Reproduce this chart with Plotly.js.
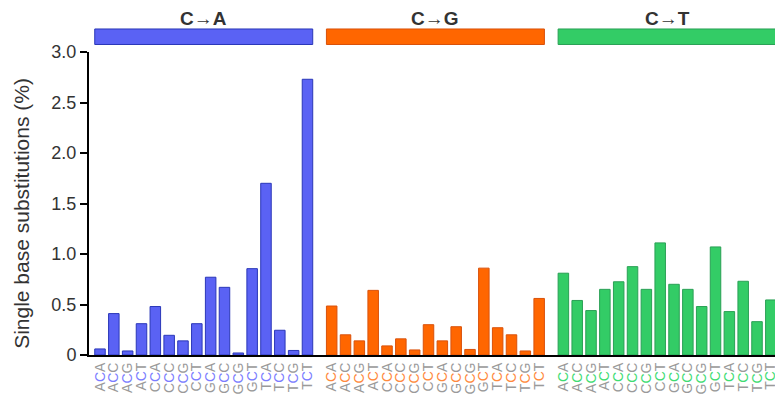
<!DOCTYPE html>
<html>
<head>
<meta charset="utf-8">
<script src="https://cdn.plot.ly/plotly-3.0.1.min.js"></script>
<style>html,body{margin:0;padding:0;background:#fff;}#chart{width:775px;height:401px;}</style>
</head>
<body>
<div id="chart"></div>
<script>
// Data
const contexts = ["ACA","ACC","ACG","ACT","CCA","CCC","CCG","CCT","GCA","GCC","GCG","GCT","TCA","TCC","TCG","TCT"];
const groupNames = ["C→A","C→G","C→T"];
const valuesCA = [0.06,0.41,0.04,0.31,0.48,0.195,0.14,0.31,0.77,0.67,0.02,0.855,1.70,0.245,0.045,2.73];
const valuesCG = [0.485,0.20,0.14,0.64,0.09,0.16,0.05,0.30,0.14,0.28,0.055,0.86,0.27,0.20,0.04,0.56];
const valuesCT = [0.81,0.54,0.44,0.65,0.725,0.875,0.65,1.11,0.70,0.65,0.48,1.07,0.43,0.73,0.33,0.545];
const yTickVals = [0,0.5,1.0,1.5,2.0,2.5,3.0];
const yTickText = ["0","0.5","1.0","1.5","2.0","2.5","3.0"];
const yTitle = 'Single base substitutions (%)';

// Styles
const fillColors = ["#5a62f4","#ff6600","#33cc66"];
const lineColors = ["#2a37b8","#d9510a","#2aa055"];
const labelColors = ["#7b7dff","#ff8a3d","#3fdc72"];
const groupStride = 16.75;
const barWidth = 0.76;

const allValues = [valuesCA, valuesCG, valuesCT];
const traces = [];
const tickvals = [];
const ticktext = [];
const shapes = [];
const annotations = [];

allValues.forEach((vals, g) => {
  const xs = contexts.map((c, i) => g * groupStride + i);
  traces.push({
    type: 'bar',
    x: xs,
    y: vals,
    width: barWidth,
    marker: {color: fillColors[g], line: {color: lineColors[g], width: 1}},
    hoverinfo: 'x+y',
    showlegend: false
  });
  contexts.forEach((c, i) => {
    tickvals.push(xs[i]);
    ticktext.push(c[0] + '<span style="color:' + labelColors[g] + '">' + c[1] + '</span>' + c[2]);
  });
  const x0 = xs[0] - barWidth / 2;
  const x1 = xs[xs.length - 1] + barWidth / 2;
  shapes.push({
    type: 'rect', xref: 'x', yref: 'paper',
    x0: x0, x1: x1, y0: 1.0248, y1: 1.076,
    fillcolor: fillColors[g], line: {color: lineColors[g], width: 1}
  });
  annotations.push({
    xref: 'x', yref: 'paper', x: (x0 + x1) / 2, y: 1.112,
    text: '<b>' + groupNames[g] + '</b>', showarrow: false,
    font: {family: 'Liberation Sans, Arial, sans-serif', size: 19, color: '#333'},
    xanchor: 'center', yanchor: 'middle'
  });
});

annotations.push({
  xref: 'paper', yref: 'paper', x: -0.0977, y: 0.469,
  text: yTitle, textangle: -90, showarrow: false,
  xanchor: 'center', yanchor: 'middle',
  font: {family: 'Liberation Sans, Arial, sans-serif', size: 21, color: '#333'}
});

const layout = {
  width: 775, height: 401,
  margin: {l: 89, r: 0, t: 52, b: 46, pad: 0},
  paper_bgcolor: '#fff', plot_bgcolor: '#fff',
  bargap: 0,
  font: {family: 'Liberation Sans, Arial, sans-serif', color: '#333'},
  xaxis: {
    range: [-0.795, 48.8],
    showgrid: false, zeroline: false,
    showline: true, linecolor: '#000', linewidth: 2,
    tickmode: 'array', tickvals: tickvals, ticktext: ticktext,
    tickangle: -90, ticks: '', ticklabeloverflow: 'allow',
    tickfont: {family: 'Liberation Sans, Arial, sans-serif', size: 14, color: '#9a9a9a'}
  },
  yaxis: {
    range: [0, 3.0],
    showgrid: false, zeroline: false,
    showline: true, linecolor: '#000', linewidth: 2,
    ticks: 'outside', ticklen: 7, tickwidth: 2, tickcolor: '#000',
    tickmode: 'array', tickvals: yTickVals, ticktext: yTickText,
    tickfont: {size: 18, color: '#333'}
  },
  shapes: shapes,
  annotations: annotations
};

Plotly.newPlot('chart', traces, layout, {staticPlot: true, displayModeBar: false});
</script>
</body>
</html>
